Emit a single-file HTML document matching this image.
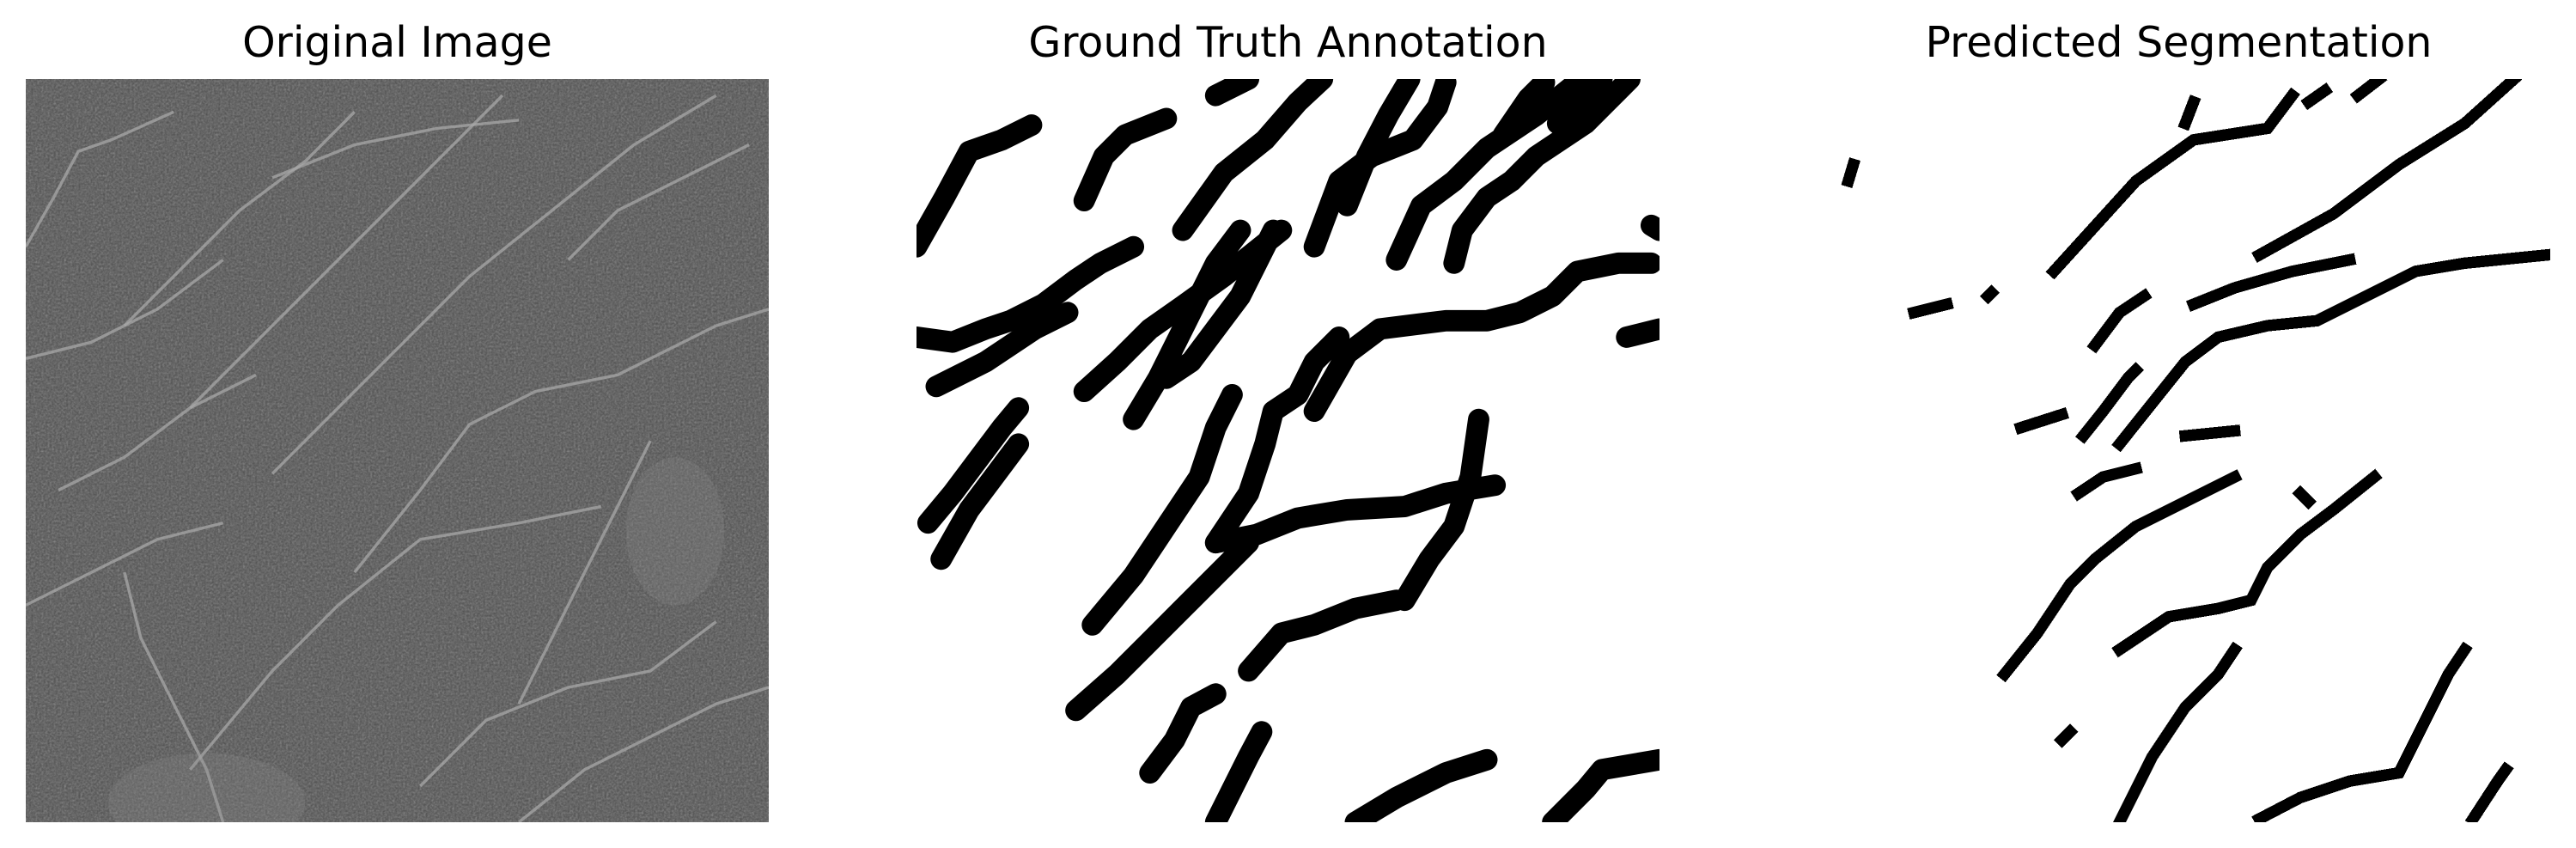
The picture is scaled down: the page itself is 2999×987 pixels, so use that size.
<!DOCTYPE html>
<html><head><meta charset="utf-8"><style>
html,body{margin:0;padding:0;background:#fff;width:2999px;height:987px;overflow:hidden;position:relative}
.t{position:absolute;top:20px;width:865px;text-align:center;font-family:"DejaVu Sans","Liberation Sans",sans-serif;font-size:49px;color:#000;line-height:60px}
svg.p{position:absolute;top:92px;width:865px;height:865px}
</style></head><body>
<div class="t" style="left:30px">Original Image</div>
<div class="t" style="left:1067px">Ground Truth Annotation</div>
<div class="t" style="left:2104px">Predicted Segmentation</div>

<svg class="p" style="left:30px" viewBox="0 0 452 452">
<defs><filter id="n" x="0" y="0" width="1" height="1"><feTurbulence type="fractalNoise" baseFrequency="0.8" numOctaves="3" seed="3"/><feColorMatrix type="saturate" values="0"/><feComponentTransfer><feFuncA type="table" tableValues="0 0.45"/></feComponentTransfer></filter></defs>
<rect width="452" height="452" fill="#4e4e4e"/>
<rect width="452" height="452" filter="url(#n)"/>
<g fill="none" stroke="#a8a8a8" stroke-width="1.8" stroke-opacity="0.75">
<path d="M0 102 L17 72 L32 44 L52 37 L90 20"/>
<path d="M60 150 L100 110 L130 80 L170 50 L200 20"/>
<path d="M100 200 L140 160 L180 120 L220 80 L260 40 L290 10"/>
<path d="M150 240 L190 200 L230 160 L270 120 L320 80 L370 40 L420 10"/>
<path d="M200 300 L240 250 L270 210 L310 190 L360 180 L420 150 L452 140"/>
<path d="M100 420 L150 360 L190 320 L240 280 L300 270 L350 260"/>
<path d="M240 430 L280 390 L330 370 L380 360 L420 330"/>
<path d="M20 250 L60 230 L100 200 L140 180"/>
<path d="M0 170 L40 160 L80 140 L120 110"/>
<path d="M60 300 L70 340 L90 380 L110 420 L120 452"/>
<path d="M380 220 L360 260 L340 300 L320 340 L300 380"/>
<path d="M300 452 L340 420 L380 400 L420 380 L452 370"/>
<path d="M0 320 L40 300 L80 280 L120 270"/>
<path d="M150 60 L200 40 L250 30 L300 25"/>
<path d="M330 110 L360 80 L400 60 L440 40"/>
</g>
<ellipse cx="395" cy="275" rx="30" ry="45" fill="#8a8a8a" opacity="0.25"/>
<ellipse cx="110" cy="440" rx="60" ry="30" fill="#8a8a8a" opacity="0.25"/>
</svg>

<svg class="p" style="left:1067px" viewBox="0 0 452 452">
<rect width="452" height="452" fill="#fff"/>
<g fill="none" stroke="#000" stroke-width="13" stroke-linecap="round" stroke-linejoin="round">
<path d="M0 102 L17 72 L32 44 L52 37 L70 28"/>
<path d="M102 74 L114 47 L127 34 L152 24"/>
<path d="M162 92 L187 57 L212 37 L232 14 L247 0"/>
<path d="M182 10 L202 0"/>
<path d="M242 102 L257 62 L277 47 L302 37 L317 17 L322 2"/>
<path d="M262 77 L274 47 L287 22 L300 0"/>
<path d="M292 110 L307 77 L327 62 L347 42 L377 22 L402 2"/>
<path d="M327 112 L332 92 L347 72 L362 62 L377 47 L407 27 L427 7 L434 0"/>
<path d="M357 34 L372 12 L382 2"/>
<path d="M390 27 L404 12 L417 0"/>
<path d="M447 89 L452 92"/>
<path d="M0 157 L22 160 L42 152 L57 147 L77 137 L97 122 L112 112 L132 102"/>
<path d="M12 187 L42 172 L72 152 L92 142"/>
<path d="M7 270 L22 252 L37 232 L52 212 L62 200"/>
<path d="M15 292 L32 262 L47 242 L62 222"/>
<path d="M102 190 L122 172 L142 152 L162 138 L187 120 L212 100 L222 92"/>
<path d="M152 182 L167 172 L182 152 L197 132 L207 112 L217 92"/>
<path d="M132 207 L147 182 L157 162 L167 142 L182 112 L197 92"/>
<path d="M242 202 L262 167 L282 152 L322 147 L347 147 L367 142 L387 132 L402 117 L427 112 L447 112"/>
<path d="M432 157 L452 152"/>
<path d="M182 282 L202 252 L212 222 L217 202 L232 192 L242 172 L257 157"/>
<path d="M182 282 L207 277 L232 267 L262 262 L297 260 L322 252 L352 247"/>
<path d="M297 317 L312 292 L327 272 L337 242 L342 207"/>
<path d="M107 332 L132 302 L152 272 L172 242 L182 212 L192 192"/>
<path d="M97 384 L122 362 L142 342 L162 322 L182 302 L202 282"/>
<path d="M202 360 L222 337 L242 332 L267 322 L292 317"/>
<path d="M142 422 L157 402 L167 382 L182 374"/>
<path d="M182 452 L192 432 L202 412 L210 397"/>
<path d="M267 452 L292 437 L322 422 L347 414"/>
<path d="M387 452 L407 432 L417 420 L452 414"/>
</g>
</svg>

<svg class="p" style="left:2104px" viewBox="0 0 452 452" shape-rendering="crispEdges">
<rect width="452" height="452" fill="#fff"/>
<g fill="none" stroke="#000" stroke-width="7" stroke-linecap="square" stroke-linejoin="miter">
<path d="M150 117 L200 62 L235 37 L280 30 L295 10"/>
<path d="M275 107 L320 82 L360 52 L400 27 L430 0"/>
<path d="M190 222 L210 197 L230 172 L250 157 L280 150 L310 147 L340 132 L370 117 L400 112 L450 107"/>
<path d="M235 137 L260 127 L295 117 L330 110"/>
<path d="M120 362 L140 337 L160 307 L175 292 L200 272 L230 257 L240 252 L260 242"/>
<path d="M190 347 L220 327 L250 322 L270 317 L280 297 L300 277 L320 262 L345 242"/>
<path d="M190 452 L200 432 L210 412 L230 382 L250 362 L260 347"/>
<path d="M275 450 L300 437 L330 427 L360 422 L375 392 L390 362 L400 347"/>
<path d="M405 450 L420 427 L425 420"/>
<path d="M65 142 L85 137"/>
<path d="M25 62 L28 52"/>
<path d="M130 212 L155 204"/>
<path d="M168 217 L180 202 L195 182 L200 177"/>
<path d="M165 252 L180 242 L200 237"/>
<path d="M230 217 L260 214"/>
<path d="M175 162 L190 142 L205 132"/>
<path d="M155 402 L160 397"/>
<path d="M300 252 L305 257"/>
<path d="M230 27 L235 14"/>
<path d="M305 14 L315 7"/>
<path d="M335 10 L348 0"/>
<path d="M110 132 L112 130"/>
</g>
</svg>
</body></html>
